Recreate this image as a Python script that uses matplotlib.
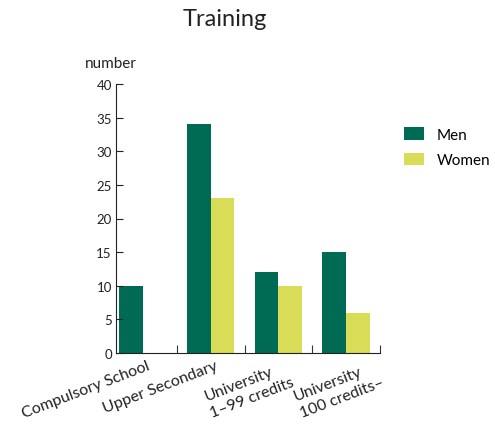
import matplotlib.pyplot as plt
import numpy as np

plt.rcParams['font.family'] = ['Lato', 'DejaVu Sans']

categories = ['Compulsory School', 'Upper Secondary', 'University\n1–99 credits', 'University\n100 credits–']
men = [10, 34, 12, 15]
women = [0, 23, 10, 6]

fig = plt.figure(figsize=(4.95, 4.27), dpi=100)
ax = fig.add_axes([116 / 495, 1 - 354 / 427, 264 / 495, 269 / 427])

x = np.arange(len(categories))
w = 0.35
ax.bar(x - w / 2, men, w, color='#006b54', label='Men')
ax.bar(x + w / 2, women, w, color='#d9dc57', label='Women')

ax.set_xlim(-0.4, 3.5)
ax.set_ylim(0, 40)
ax.set_yticks(range(0, 41, 5))
ax.tick_params(axis='y', direction='in', length=5, labelsize=9.5, colors='#222222', pad=3)
ax.set_xticks(x + 0.5, minor=False)
ax.set_xticklabels([])
ax.tick_params(axis='x', direction='in', length=6, color='#333333')
# rotated category labels, nudged a little to the right like the original
nudge = [0.05, 0.05, 0.1, 0.42]
for xi, lab, dx in zip(x, categories, nudge):
    ax.text(xi + dx, -0.8, lab, rotation=21, ha='right', va='top', ma='left',
            rotation_mode='anchor', fontsize=11.5, color='#222222', linespacing=1.3)

for s in ['top', 'right']:
    ax.spines[s].set_visible(False)
ax.spines['left'].set_color('#222222')
ax.spines['bottom'].set_color('#222222')

fig.text(111 / 495, 1 - 64 / 427, 'number', ha='center', va='center', fontsize=11, color='#222222')
fig.text(225 / 495, 1 - 19 / 427, 'Training', ha='center', va='center', fontsize=17, color='#222222')

ax.legend(loc='upper left', bbox_to_anchor=(1.04, 0.89), frameon=False, fontsize=11,
          handlelength=1.3, handleheight=0.9, labelspacing=0.7)

fig.savefig('out.png', dpi=100)
